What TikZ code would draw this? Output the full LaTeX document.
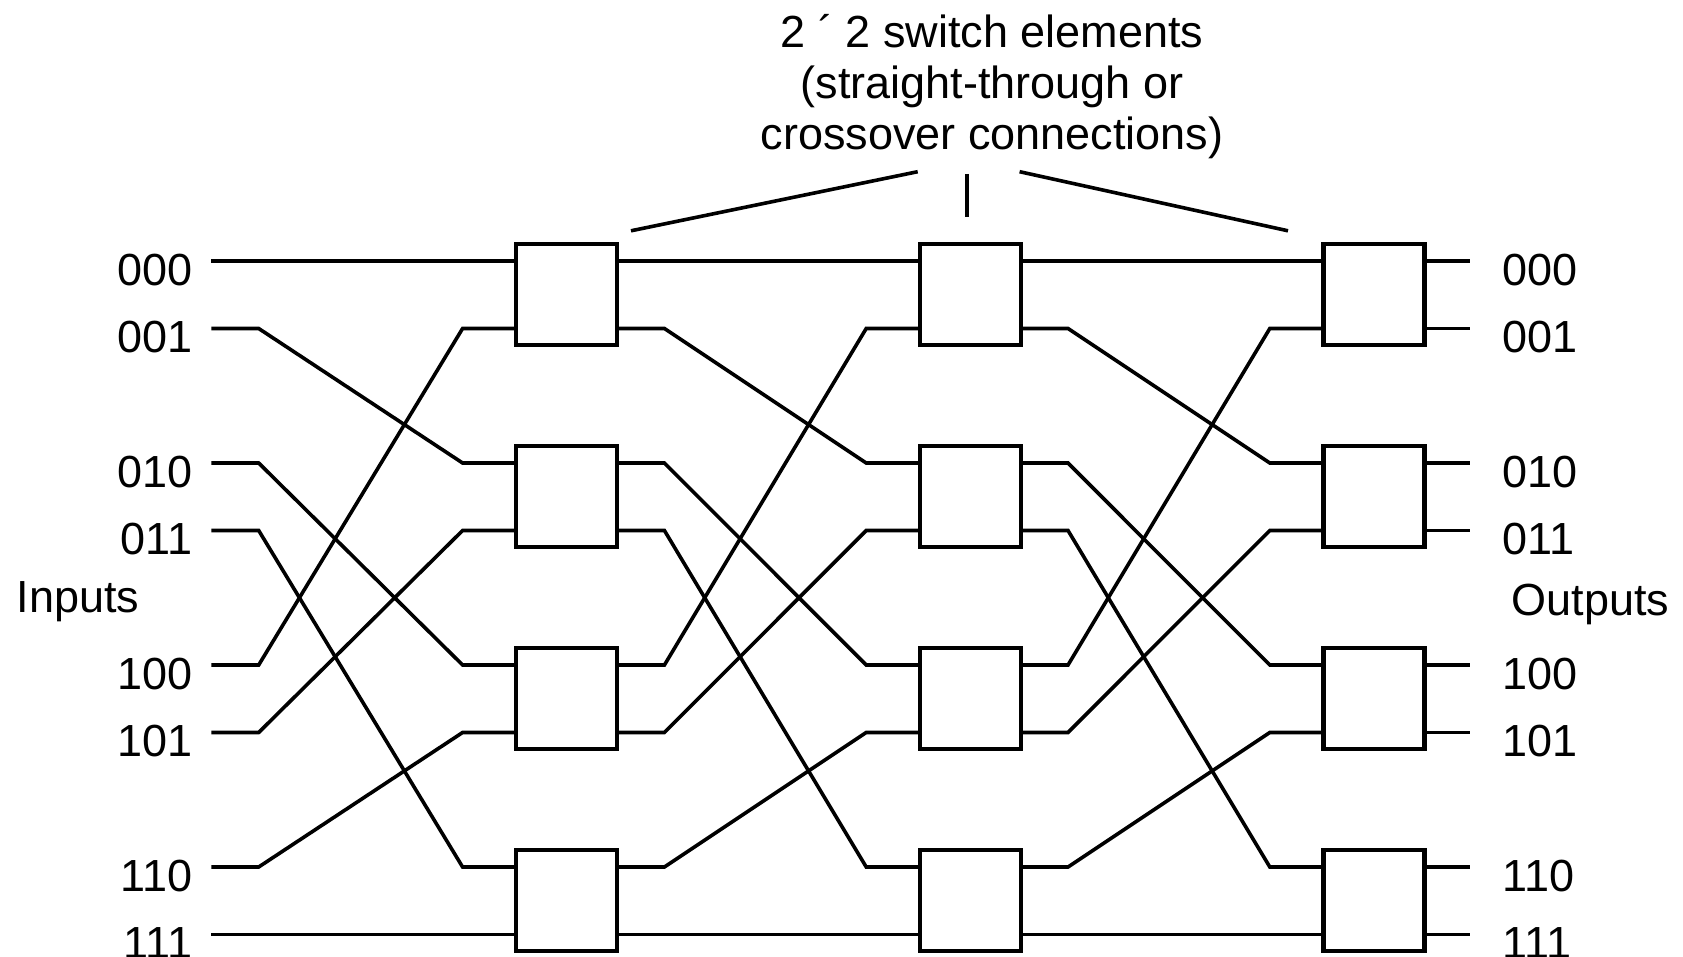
\documentclass[tikz,border=0pt]{standalone}
\usepackage{fontspec}
\setmainfont{Liberation Sans}
\usetikzlibrary{positioning}

\begin{document}
\begin{tikzpicture}[x=0.5pt, y=-0.5pt, line width=1.8pt,
        switch/.style = {draw, line width=2.1pt, minimum width=50.5pt, minimum height=50.5pt, inner sep=0pt},
        num/.style = {font=\fontsize{22.5}{25.5}\selectfont, inner sep=0pt}]
    \useasboundingbox (0,0) rectangle (1683,957);

    % Switch elements
    \foreach \s in {1,2,3}
        \foreach \b in {1,...,4}
            \node[switch] (sw\s\b) at ({566.8+(\s-1)*403.6}, {294.5+(\b-1)*202}) {};

    % Pins
    \foreach \s in {1,2,3}
        \foreach \r in {0,...,7} {
            \pgfmathsetmacro\y{261+int(\r/2)*202+mod(\r,2)*67.5}
            \coordinate (in\s-\r) at ({516.3+(\s-1)*403.6}, \y);
            \coordinate (pre\s-\r) at ({462.6+(\s-1)*403.6}, \y);
            \coordinate (out\s-\r) at ({617.1+(\s-1)*403.6}, \y);
        }

    % Inputs and outputs
    \foreach \r/\t in {0/000, 1/001, 2/010, 3/011, 4/100, 5/101, 6/110, 7/111} {
        \pgfmathsetmacro\y{261+int(\r/2)*202+mod(\r,2)*67.5}
        \coordinate (src\r) at (211.4, \y);
        \coordinate (dst\r) at (1470.4, \y);
        \node[num, anchor=east] (lin\r) at (194, \y+8.6) {\t};
        \node[num, anchor=west] (lout\r) at (1501, \y+8.6) {\t};
    }
    \node[num, anchor=base west] (inputs) at (15,612) {Inputs};
    \node[num, anchor=base west] (outputs) at (1510,615) {Outputs};

    % Lines (perfect shuffle)
    \foreach \r in {0,...,7} {
        \pgfmathtruncatemacro\d{2*mod(\r,4)+int(\r/4)}
        \draw (src\r) -- ++(47.3,0) -- (pre1-\d) -- (in1-\d);
        \draw (out1-\r) -- ++(47.3,0) -- (pre2-\d) -- (in2-\d);
        \draw (out2-\r) -- ++(47.3,0) -- (pre3-\d) -- (in3-\d);
        \draw (out3-\r) -- (dst\r);
    }

    % Caption
    \node[num, align=center, anchor=north] (caption) at (992,13)
        {2 ´ 2 switch elements\\(straight-through or\\crossover connections)};
    \coordinate (tl) at (917.7,171.7);
    \coordinate (tm) at (967,174);
    \coordinate (tr) at (1019.6,171.7);
    \coordinate (bl) at (631,230.8);
    \coordinate (bm) at (967,217);
    \coordinate (br) at (1288,230.8);
    \draw (tl) -- (bl);
    \draw (tm) -- (bm);
    \draw (tr) -- (br);
\end{tikzpicture}
\end{document}
